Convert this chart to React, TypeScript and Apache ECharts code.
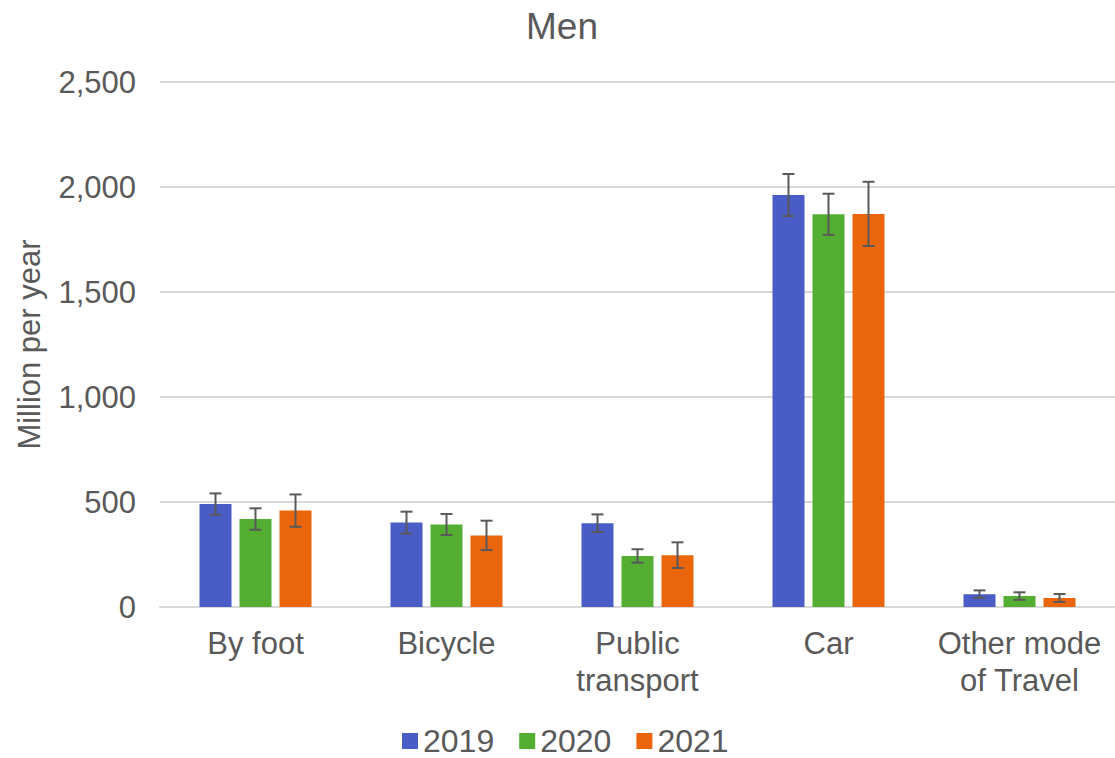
import React, { useEffect, useRef } from "react";
import * as echarts from "echarts";

const categories = ["By foot", "Bicycle", "Public\ntransport", "Car", "Other mode\nof Travel"];
const years = ["2019", "2020", "2021"];
const v2019 = [490, 402, 399, 1962, 61];
const v2020 = [419, 393, 243, 1870, 52];
const v2021 = [459, 341, 247, 1872, 43];
const err2019 = [51, 52, 42, 100, 18];
const err2020 = [51, 50, 32, 98, 18];
const err2021 = [77, 70, 61, 153, 19];
const yTicks = [0, 500, 1000, 1500, 2000, 2500];

const colors = ["#4A5CC5", "#53AE32", "#EB660A"];
const FONT = "'Liberation Sans', Arial, sans-serif";
const TEXT = "#595959";

export default function App() {
  const ref = useRef<HTMLDivElement>(null);
  useEffect(() => {
    document.body.style.margin = "0";
    const chart = echarts.init(ref.current!, null, { renderer: "svg" });
    const values = [v2019, v2020, v2021];
    const errs = [err2019, err2020, err2021];
    const barWidth = 32;
    const step = 40;

    const barSeries = years.map((y, i) => ({
      name: y,
      type: "bar",
      data: values[i],
      barWidth,
      barGap: "25%",
      itemStyle: { color: colors[i] },
    }));

    const errSeries = years.map((y, i) => ({
      name: "err" + y,
      type: "custom",
      z: 10,
      data: values[i].map((v, k) => [k, v - errs[i][k], v + errs[i][k]]),
      renderItem: (params: any, api: any) => {
        const idx = api.value(0);
        const lo = api.coord([idx, api.value(1)]);
        const hi = api.coord([idx, api.value(2)]);
        const x = lo[0] + (i - 1) * step;
        const cap = 6;
        const style = { stroke: "#595959", lineWidth: 2 };
        return {
          type: "group",
          children: [
            { type: "line", shape: { x1: x, y1: lo[1], x2: x, y2: hi[1] }, style },
            { type: "line", shape: { x1: x - cap, y1: lo[1], x2: x + cap, y2: lo[1] }, style },
            { type: "line", shape: { x1: x - cap, y1: hi[1], x2: x + cap, y2: hi[1] }, style },
          ],
        };
      },
    }));

    chart.setOption({
      animation: false,
      textStyle: { fontFamily: FONT, color: TEXT },
      title: {
        text: "Men",
        left: 557,
        textAlign: "center",
        top: 3,
        textStyle: { fontFamily: FONT, fontSize: 37, fontWeight: "normal", color: TEXT },
      },
      legend: {
        data: years,
        bottom: 0,
        left: 402,
        padding: 0,
        icon: "rect",
        itemWidth: 16,
        itemHeight: 16,
        itemGap: 25,
        textStyle: { fontFamily: FONT, fontSize: 32, color: TEXT, lineHeight: 34 },
      },
      grid: { left: 160, right: 0, top: 82, bottom: 151, containLabel: false },
      xAxis: {
        type: "category",
        data: categories,
        axisTick: { show: false },
        axisLine: { show: true, lineStyle: { color: "#D9D9D9", width: 2 } },
        axisLabel: {
          fontFamily: FONT,
          fontSize: 31,
          color: TEXT,
          lineHeight: 37,
          margin: 18,
          interval: 0,
        },
      },
      yAxis: {
        type: "value",
        min: yTicks[0],
        max: yTicks[yTicks.length - 1],
        interval: yTicks[1] - yTicks[0],
        name: "Million per year",
        nameLocation: "middle",
        nameGap: 115,
        nameTextStyle: { fontFamily: FONT, fontSize: 31, color: TEXT },
        axisLine: { show: false },
        axisTick: { show: false },
        splitLine: { lineStyle: { color: "#D9D9D9", width: 2 } },
        axisLabel: {
          fontFamily: FONT,
          fontSize: 31,
          color: TEXT,
          margin: 24,
          formatter: (v: number) => v.toLocaleString("en-US"),
        },
      },
      series: [...barSeries, ...errSeries],
    });
    return () => chart.dispose();
  }, []);
  return <div ref={ref} style={{ width: 1115, height: 758 }} />;
}
